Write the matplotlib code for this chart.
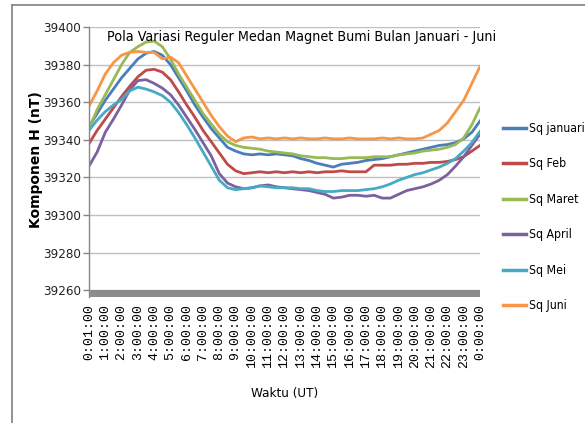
import matplotlib
matplotlib.use("Agg")
import matplotlib.pyplot as plt
from matplotlib import font_manager
from matplotlib.lines import Line2D
import numpy as np

# Half-hourly readings (nT), 0:00 .. 24:00 UT
hours = np.arange(0, 24.5, 0.5)

sq_januari = [39347, 39354, 39361, 39367, 39373, 39378, 39383, 39386, 39387, 39385,
              39380, 39373, 39366, 39358.5, 39352, 39346, 39341, 39336, 39334, 39332.5,
              39332, 39332.5, 39332, 39332.5, 39332, 39331.5, 39330, 39329, 39327.5, 39326.5,
              39325.5, 39327, 39327.5, 39328, 39329, 39329.5, 39330, 39331, 39332, 39333,
              39334, 39335, 39336, 39337, 39337.5, 39338.5, 39340.5, 39344, 39350]
sq_feb = [39338, 39345, 39351, 39357, 39363, 39368.5, 39373.5, 39377, 39377.5, 39376,
          39372, 39365.5, 39358.5, 39352, 39345, 39339, 39333, 39327, 39323.5, 39322,
          39322.5, 39323, 39322.5, 39323, 39322.5, 39323, 39322.5, 39323, 39322.5, 39323,
          39323, 39323.5, 39323, 39323, 39323, 39326.5, 39326.5, 39326.5, 39327, 39327,
          39327.5, 39327.5, 39328, 39328, 39328.5, 39329.5, 39331, 39334, 39337]
sq_maret = [39346, 39356, 39364, 39372, 39380, 39386.5, 39389.5, 39392, 39392.5, 39389.5,
            39383, 39375, 39368, 39361, 39354, 39348.5, 39343, 39339, 39337, 39336,
            39335.5, 39335, 39334, 39333.5, 39333, 39332.5, 39331.5, 39331, 39330.5, 39330.5,
            39330, 39330, 39330.5, 39330.5, 39330.5, 39331, 39331, 39331, 39332, 39332.5,
            39333, 39334, 39334.5, 39335, 39336, 39337.5, 39341, 39348, 39357]
sq_april = [39326, 39333.5, 39344, 39351, 39358.5, 39366.5, 39371.5, 39372, 39370, 39367.5,
            39364, 39358.5, 39352, 39345.5, 39338.5, 39331.5, 39322, 39317, 39315, 39314,
            39314.5, 39315.5, 39316, 39315, 39314.5, 39314, 39313.5, 39313, 39312, 39311,
            39309, 39309.5, 39310.5, 39310.5, 39310, 39310.5, 39309, 39309, 39311, 39313,
            39314, 39315, 39316.5, 39318.5, 39321.5, 39326, 39331, 39337, 39343]
sq_mei = [39345, 39350.5, 39355, 39358.5, 39361.5, 39366, 39368, 39367, 39365.5, 39363.5,
          39360, 39354.5, 39348, 39341, 39333.5, 39326, 39318.5, 39314.5, 39313.5, 39314,
          39314.5, 39315.5, 39315, 39314.5, 39314.5, 39314.5, 39314, 39314, 39313, 39312.5,
          39312.5, 39313, 39313, 39313, 39313.5, 39314, 39315, 39316.5, 39318.5, 39320,
          39321.5, 39322.5, 39324, 39325.5, 39327.5, 39330, 39334, 39338.5, 39344.5]
sq_juni = [39358, 39366, 39375, 39381, 39385, 39386.5, 39387, 39386.5, 39386.5, 39383,
           39384, 39381, 39374, 39367, 39360, 39353, 39347, 39342, 39339, 39341,
           39341.5, 39340.5, 39341, 39340.5, 39341, 39340.5, 39341, 39340.5, 39340.5, 39341,
           39340.5, 39340.5, 39341, 39340.5, 39340.5, 39340.5, 39341, 39340.5, 39341, 39340.5,
           39340.5, 39341, 39343, 39345, 39349, 39355, 39361, 39370, 39379]

series_names = ['Sq januari', 'Sq Feb', 'Sq Maret', 'Sq April', 'Sq Mei', 'Sq Juni']
series_colors = ['#4a7ebb', '#be4b48', '#98b954', '#7d60a0', '#46aac5', '#f79646']

tick_labels = ['0:01:00'] + [f'{h}:00:00' for h in range(1, 24)] + ['0:00:00']
y_ticks = [39260, 39280, 39300, 39320, 39340, 39360, 39380, 39400]


def narrow(size):
    return font_manager.FontProperties(family='DejaVu Sans', stretch='condensed', size=size)


fig = plt.figure(figsize=(5.85, 4.23), dpi=100)
ax = fig.add_axes([89 / 585, 1 - 297 / 423, (480 - 89) / 585, (297 - 27) / 423])

all_series = [sq_januari, sq_feb, sq_maret, sq_april, sq_mei, sq_juni]
for vals, name, col in zip(all_series, series_names, series_colors):
    ax.plot(hours, vals, color=col, lw=2.0, label=name, solid_joinstyle='round')

ax.set_xlim(0, 24)
ax.set_ylim(39256.4, 39400)
ax.axhspan(39256.4, 39260, color='#8c8c8c', lw=0, zorder=3)

ax.set_yticks(y_ticks)
ax.set_yticklabels([str(v) for v in y_ticks], fontproperties=narrow(9.5), color='#222222')
ax.set_xticks(range(25))
ax.set_xticklabels(tick_labels, rotation=90, fontfamily='Liberation Mono', fontsize=9.5)
ax.tick_params(axis='x', length=0, pad=5)
ax.tick_params(axis='y', length=4, width=1, color='#868686', pad=2)
ax.grid(axis='y', color='#c0c0c0', lw=1)
ax.set_axisbelow(True)

for s in ['top', 'right', 'bottom']:
    ax.spines[s].set_visible(False)
ax.spines['left'].set_color('#868686')
ax.spines['left'].set_linewidth(1)

ax.text(0.543, 0.99, 'Pola Variasi Reguler Medan Magnet Bumi Bulan Januari - Juni',
        transform=ax.transAxes, ha='center', va='top', fontproperties=narrow(10.3))

fig.text(36 / 585, 1 - 160 / 423, 'Komponen H (nT)', rotation=90, ha='center', va='center',
         fontweight='bold', fontsize=10)
fig.text(285 / 585, 1 - 393 / 423, 'Waktu (UT)', ha='center', va='center',
         fontproperties=narrow(9.6))

leg = fig.legend(loc='upper left', bbox_to_anchor=(498 / 585, 1 - 117 / 423),
                 frameon=False, prop=narrow(8.8),
                 handlelength=1.9, handletextpad=0.2, labelspacing=1.84, borderaxespad=0)
for line in leg.get_lines():
    line.set_linewidth(2.5)

# outer chart frame
fig.add_artist(Line2D([12 / 585, 1.0], [1 - 5 / 423, 1 - 5 / 423], color='#808080', lw=1.2))
fig.add_artist(Line2D([12 / 585, 12 / 585], [0, 1 - 5 / 423], color='#808080', lw=1.2))

fig.savefig('out.png', dpi=100, facecolor='white')
